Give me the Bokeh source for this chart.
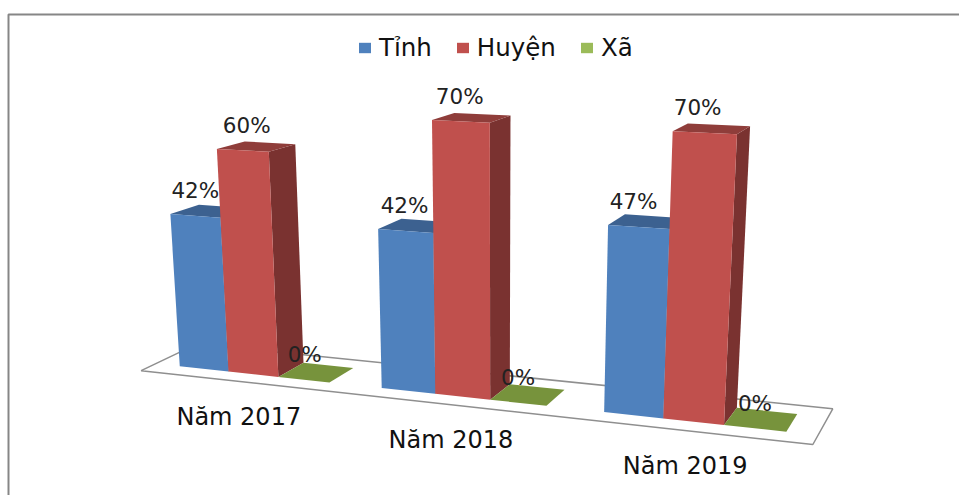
import numpy as np
from bokeh.plotting import figure
from bokeh.models import Range1d, Legend, LegendItem
from bokeh.core.properties import value
from bokeh.embed import file_html
from bokeh.resources import INLINE

categories = ["Năm 2017", "Năm 2018", "Năm 2019"]
tinh = [42, 42, 47]
huyen = [60, 70, 70]
xa = [0, 0, 0]
series_names = ["Tỉnh", "Huyện", "Xã"]

# Pinhole camera of the 3-D chart: (slot along the axis, depth, percent) -> page position
CAMERA = np.array([
    [46.11137, 33.7483, -0.338904, 179.2489],
    [0.9919842, -2.829782, -3.768121, 365.7509],
    [-0.01149365, 0.030371, -0.0006825046, 1.0],
])

def proj(X, Y, Z):
    q = CAMERA @ np.array([X, Y, Z, 1.0])
    return q[0] / q[2], q[1] / q[2]

def poly(corners):
    pts = [proj(*c) for c in corners]
    return [a for a, _ in pts], [b for _, b in pts]

p = figure(width=959, height=495, output_backend="svg", toolbar_location=None,
           x_range=Range1d(0, 959), y_range=Range1d(495, 0), min_border=0,
           outline_line_color=None, background_fill_color="white")
p.xaxis.visible = False
p.yaxis.visible = False
p.grid.visible = False

p.line([8, 8, 959], [495, 14, 14], line_color="#868686", line_width=2)
fx, fy = poly([(-.5, -.5, 0), (11.5, -.5, 0), (11.5, 1.5, 0), (-.5, 1.5, 0)])
p.patch(fx, fy, fill_color="white", line_color="#8f8f8f", line_width=1.5)

front_cols = ["#4F81BD", "#C0504D", "#9BBB59"]
top_cols = ["#3C6190", "#8F3D3A", "#77933C"]
side_cols = ["#3A5F8C", "#7A3230", "#5F7530"]
renderers = []
all_series = [tinh, huyen, xa]
for s_i, vals in enumerate(all_series):
    fr = ([], []); tp = ([], []); sd = ([], [])
    for g, val in enumerate(vals):
        x0 = 4 * g + s_i
        for t, c in ((fr, [(x0, 0, 0), (x0 + 1, 0, 0), (x0 + 1, 0, val), (x0, 0, val)]),
                     (sd, [(x0 + 1, 0, 0), (x0 + 1, 1, 0), (x0 + 1, 1, val), (x0 + 1, 0, val)]),
                     (tp, [(x0, 0, val), (x0 + 1, 0, val), (x0 + 1, 1, val), (x0, 1, val)])):
            a, b_ = poly(c)
            t[0].append(a); t[1].append(b_)
    p.patches(sd[0], sd[1], fill_color=side_cols[s_i], line_color=None)
    p.patches(tp[0], tp[1], fill_color=top_cols[s_i], line_color=None)
    renderers.append(p.patches(fr[0], fr[1], fill_color=front_cols[s_i], line_color=None))

# data labels sit above each bar; the taller bars' labels drift left across the chart
label_shift = [[0, -1, -5], [4, -1, -7], [1, 0, 0]]
lx = []; ly = []; lt = []; ldx = []
for s_i, vals in enumerate(all_series):
    for g, val in enumerate(vals):
        a, b_ = proj(4 * g + s_i + .5, 0, val)
        lx.append(a); ly.append(b_); lt.append(f"{val}%"); ldx.append(label_shift[s_i][g])
p.text(x=lx, y=ly, text=lt, x_offset=ldx, y_offset=-25, text_align="center", text_baseline="middle",
       text_font=value("DejaVu Sans"), text_font_size="21.5px", text_color="#222222")

cx = []; cy = []
for g in range(3):
    a, b_ = proj(4 * g + 1.5, -.5, 0)
    cx.append(a); cy.append(b_)
p.text(cx, cy, text=categories, x_offset=-1, y_offset=35, text_align="center", text_baseline="middle",
       text_font=value("DejaVu Sans"), text_font_size="24px", text_color="#111111")

leg = Legend(items=[LegendItem(label=n, renderers=[r]) for n, r in zip(series_names, renderers)],
             orientation="horizontal", location=(357, 433), glyph_width=15, glyph_height=13, label_standoff=7,
             spacing=23, padding=0, margin=0, background_fill_alpha=0, border_line_color=None,
             label_text_font="DejaVu Sans", label_text_font_size="24.5px", label_text_color="#111111")
p.add_layout(leg)

open("out.html", "w").write(file_html(p, INLINE))
